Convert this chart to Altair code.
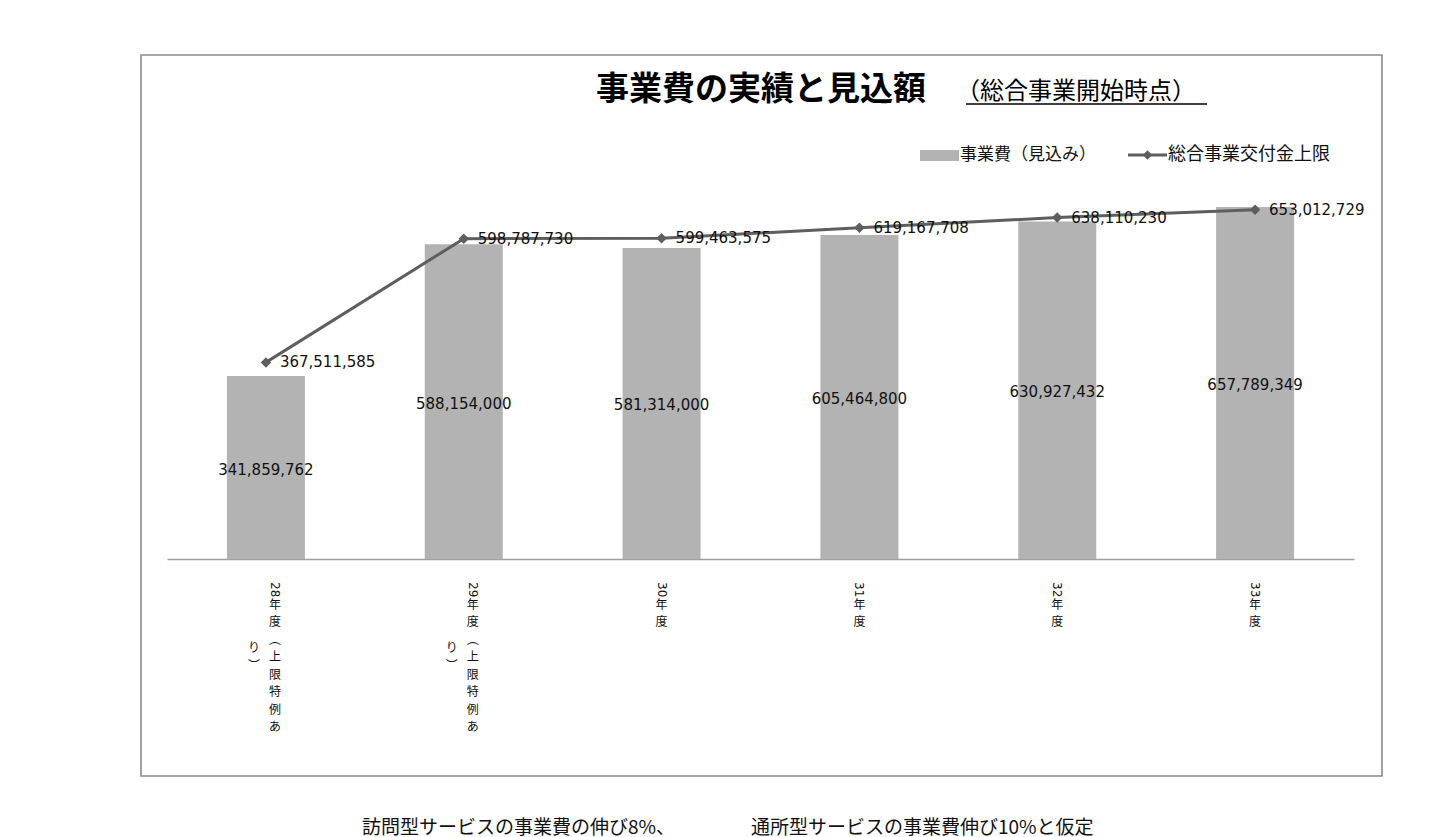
import re
import altair as alt
import pandas as pd

# ---------------- data ----------------
categories = ["28年度（上限特例あり）", "29年度（上限特例あり）", "30年度", "31年度", "32年度", "33年度"]
cost_values = [341859762, 588154000, 581314000, 605464800, 630927432, 657789349]
cap_values = [367511585, 598787730, 599463575, 619167708, 638110230, 653012729]

TITLE = "事業費の実績と見込額"
SUBTITLE = "（総合事業開始時点）"
LEGEND_COST = "事業費（見込み）"
LEGEND_CAP = "総合事業交付金上限"
NOTE_1 = "訪問型サービスの事業費の伸び8%、"
NOTE_2 = "通所型サービスの事業費伸び10%と仮定"

# ---------------- styles ----------------
BAR_COLOR = "#b3b3b3"
LINE_COLOR = "#5e5e5e"
AXIS_COLOR = "#a0a0a0"
FRAME_COLOR = "#8a8a8a"
TEXT_COLOR = "#111111"
JP = "Noto Sans CJK JP"
NUM = "DejaVu Sans"

W, H = 1187, 504
PX_PER_UNIT = 0.535e-6
Y_MAX = H / PX_PER_UNIT
LINE_H = 17.5
LABEL_TOP = H + 23

# ---------------- table ----------------
rows = []
for c, b, k in zip(categories, cost_values, cap_values):
    m = re.match(r"(\d+)(.*)", c)
    chars = list(m.group(2).replace("（", "︵").replace("）", "︶"))
    col1, col2 = chars[:8], chars[8:]
    rows.append(dict(
        cat=c, cost=b, cost_mid=b / 2, cap=k,
        cost_label=f"{b:,}", cap_label=f"{k:,}",
        digits=m.group(1), col1="\n".join(col1), col2="\n".join(col2),
        ncol=2 if col2 else 1,
    ))
df = pd.DataFrame(rows)

x_scale = alt.Scale(paddingInner=0.6057, paddingOuter=0.3029)
x_axis = alt.Axis(title=None, labels=False, ticks=False, grid=False,
                  domainColor=AXIS_COLOR, domainWidth=1.6)
y_scale = alt.Scale(domain=[0, Y_MAX], nice=False, zero=True)


def X(bp=None):
    if bp is None:
        return alt.X("cat:N", sort=categories, scale=x_scale, axis=x_axis)
    return alt.X("cat:N", sort=categories, scale=x_scale, axis=x_axis, bandPosition=bp)


def Y(field):
    return alt.Y(f"{field}:Q", scale=y_scale, axis=None)


base = alt.Chart(df)

bars = base.mark_bar(color=BAR_COLOR).encode(x=X(), y=Y("cost"))
bar_labels = base.mark_text(font=NUM, fontSize=15, color=TEXT_COLOR, dy=2).encode(
    x=X(), y=Y("cost_mid"), text="cost_label:N")
line = base.mark_line(color=LINE_COLOR, strokeWidth=3).encode(x=X(), y=Y("cap"))
points = base.mark_point(shape="diamond", filled=True, size=110, color=LINE_COLOR,
                         opacity=1).encode(x=X(), y=Y("cap"))
line_labels = base.mark_text(font=NUM, fontSize=15, color=TEXT_COLOR, align="left",
                             baseline="middle", dx=14).encode(
    x=X(), y=Y("cap"), text="cap_label:N")

# category labels (vertical, Excel-like stacked text)
two = base.transform_filter("datum.ncol == 2")
one_col = base.transform_filter("datum.ncol == 1")
BP1 = 0.5 + 9 / 78
BP2 = 0.5 - 12 / 78

dig_kw = dict(font=NUM, fontSize=12, color=TEXT_COLOR, angle=90, align="left", baseline="middle")
col_kw = dict(font=JP, fontSize=12, color=TEXT_COLOR, lineBreak="\n", lineHeight=LINE_H,
              baseline="top", align="center")

digits_2 = two.mark_text(**dig_kw).encode(x=X(BP1), y=alt.value(LABEL_TOP), text="digits:N")
digits_1 = one_col.mark_text(**dig_kw).encode(x=X(0.5), y=alt.value(LABEL_TOP), text="digits:N")
col1_2 = two.mark_text(**col_kw).encode(x=X(BP1), y=alt.value(LABEL_TOP + LINE_H), text="col1:N")
col1_1 = one_col.mark_text(**col_kw).encode(x=X(0.5), y=alt.value(LABEL_TOP + LINE_H), text="col1:N")
col2_2 = two.mark_text(**col_kw).encode(x=X(BP2), y=alt.value(LABEL_TOP + 3.5 * LINE_H),
                                        text="col2:N")

# ---------------- decorations ----------------
single = alt.Data(values=[{"k": 1}])
frame = alt.Chart(single).mark_rect(fillOpacity=0, stroke=FRAME_COLOR, strokeWidth=1.6).encode(
    x=alt.value(-26), x2=alt.value(1215), y=alt.value(0), y2=alt.value(721))
title = alt.Chart(single).mark_text(font=JP, fontSize=33, fontWeight="bold", color="#000000",
                                    align="left", baseline="middle").encode(
    x=alt.value(429), y=alt.value(35), text=alt.value(TITLE))
subtitle = alt.Chart(single).mark_text(font=JP, fontSize=24, color="#000000",
                                       align="left", baseline="middle").encode(
    x=alt.value(789), y=alt.value(37), text=alt.value(SUBTITLE))
underline = alt.Chart(single).mark_rule(color="#000000", strokeWidth=1.5).encode(
    x=alt.value(799), x2=alt.value(1040), y=alt.value(49))

leg_rect = alt.Chart(single).mark_rect(color=BAR_COLOR).encode(
    x=alt.value(753), x2=alt.value(792), y=alt.value(95), y2=alt.value(106))
leg_text1 = alt.Chart(single).mark_text(font=JP, fontSize=17, color=TEXT_COLOR,
                                        align="left", baseline="middle").encode(
    x=alt.value(793), y=alt.value(100), text=alt.value(LEGEND_COST))
leg_line = alt.Chart(single).mark_rule(color=LINE_COLOR, strokeWidth=3).encode(
    x=alt.value(961), x2=alt.value(1000), y=alt.value(100))
leg_point = alt.Chart(single).mark_point(shape="diamond", filled=True, size=90, color=LINE_COLOR,
                                         opacity=1).encode(x=alt.value(980.5), y=alt.value(100))
leg_text2 = alt.Chart(single).mark_text(font=JP, fontSize=18, color=TEXT_COLOR,
                                        align="left", baseline="middle").encode(
    x=alt.value(1001), y=alt.value(100), text=alt.value(LEGEND_CAP))

note1 = alt.Chart(single).mark_text(font=JP, fontSize=19, color=TEXT_COLOR,
                                    align="left", baseline="middle").encode(
    x=alt.value(195), y=alt.value(773), text=alt.value(NOTE_1))
note2 = alt.Chart(single).mark_text(font=JP, fontSize=19, color=TEXT_COLOR,
                                    align="left", baseline="middle").encode(
    x=alt.value(584), y=alt.value(773), text=alt.value(NOTE_2))

chart = alt.layer(
    frame, bars, bar_labels, line, points, line_labels,
    digits_2, digits_1, col1_2, col1_1, col2_2,
    title, subtitle, underline,
    leg_rect, leg_text1, leg_line, leg_point, leg_text2,
    note1, note2,
).properties(
    width=W, height=H,
    autosize=alt.AutoSizeParams(type="none"),
    padding={"left": 159, "top": 47, "right": 78, "bottom": 280},
    background="white",
).configure_view(strokeWidth=0)

chart.save("out.html", embed_options={"renderer": "svg", "actions": False})
